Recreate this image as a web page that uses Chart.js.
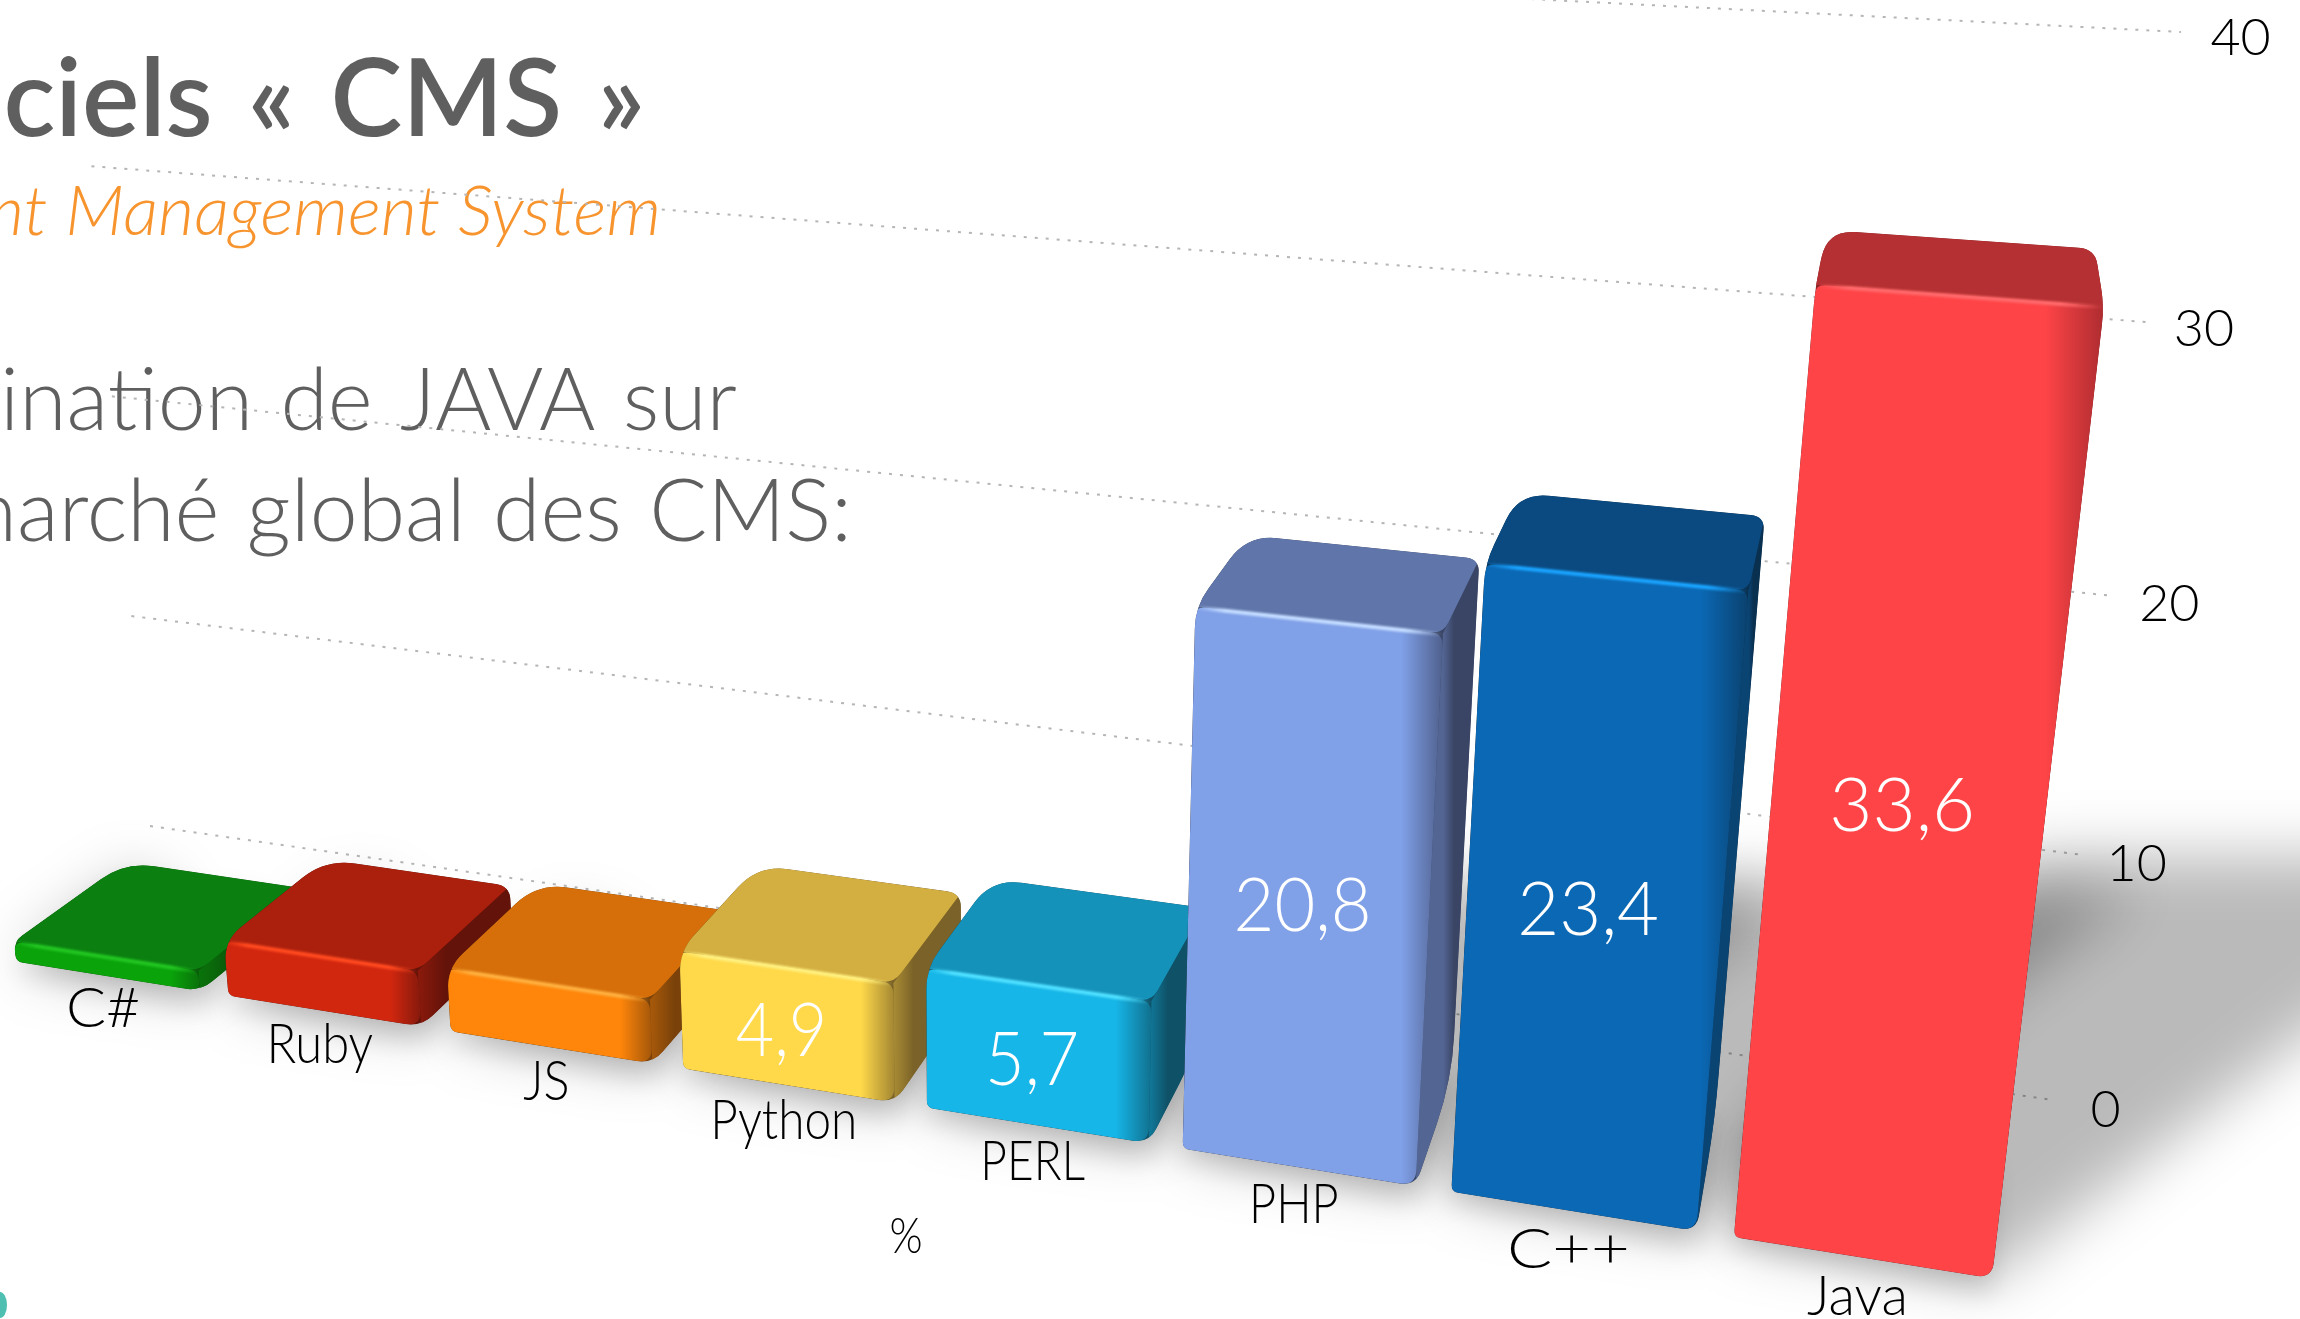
<!DOCTYPE html>
<html>
<head>
<meta charset="utf-8">
<title>Logiciels CMS</title>
<script src="https://cdn.jsdelivr.net/npm/chart.js@4"></script>
<style>
  html, body { margin: 0; padding: 0; background: #fff; overflow: hidden; }
  canvas { display: block; }
</style>
</head>
<body>
<canvas id="cms_chart" width="2300" height="1319"></canvas>
<script>
// data
const categories = ["C#", "Ruby", "JS", "Python", "PERL", "PHP", "C++", "Java"];
const shares = [0.9, 2.4, 2.7, 4.9, 5.7, 20.8, 23.4, 33.6];
const shownLabels = ["", "", "", "4,9", "5,7", "20,8", "23,4", "33,6"];
const tickValues = [0, 10, 20, 30, 40];

const frontColors = ["#0aa30a", "#d2270f", "#ff860a", "#ffd94a", "#16b6e8", "#80a0e8", "#0b68b4", "#ff4447"];
const topColors = ["#0b8010", "#ab200d", "#d66f0a", "#d3ae40", "#1592ba", "#6076aa", "#0b4a80", "#b53032"];
const sideColors = ["#0a5a0a", "#64130a", "#7a420a", "#7a6228", "#0f5268", "#3a4565", "#0a3050", "#8a2226"];
const glowColors = ["#22c522", "#ff4a20", "#ffb040", "#fff080", "#50e0ff", "#c4dcff", "#1aa4ff", "#ff6a6c"];
const labelStretch = [1.3, 1.04, 1, 0.95, 0.89, 0.88, 1.22, 0.97];

const FONT = "Lato";
const GREY = "#5f5f5f";

// back wall corners on screen, value 0 and 40, left and right
const wall = [[150, 826], [2053, 1100], [2181, 32], [70, -75]];
const vanish = [1980, -469]; // where the depth lines meet
const depthK = -0.09;
const xStart = 0.0195, xEnd = 0.9803; // category band inside the wall
const zFront = 1, zBack = 0.4;

function makeHomography(q) {
  let [x0, y0] = q[0], [x1, y1] = q[1], [x2, y2] = q[2], [x3, y3] = q[3];
  let dx1 = x1 - x2, dx2 = x3 - x2, sx = x0 - x1 + x2 - x3;
  let dy1 = y1 - y2, dy2 = y3 - y2, sy = y0 - y1 + y2 - y3;
  let den = dx1 * dy2 - dx2 * dy1;
  let g = (sx * dy2 - dx2 * sy) / den;
  let h = (dx1 * sy - sx * dy1) / den;
  return {
    a: x1 - x0 + g * x1, b: x3 - x0 + h * x3, c: x0,
    d: y1 - y0 + g * y1, e: y3 - y0 + h * y3, f: y0, g: g, h: h
  };
}
const H = makeHomography(wall);

// X and Y are 0..1 on the wall, Z goes from the wall (0) to the front of the bars (1)
function project3d(X, Y, Z) {
  let kz = depthK * Z;
  let w = H.g * X + H.h * Y + 1 + kz;
  return {
    x: (H.a * X + H.b * Y + H.c + kz * vanish[0]) / w,
    y: (H.d * X + H.e * Y + H.f + kz * vanish[1]) / w
  };
}

function chartX(area, px) {
  let frac = (px - area.left) / area.width;
  return xStart + (xEnd - xStart) * frac;
}
function chartY(area, py) {
  return (area.bottom - py) / area.height;
}

function mixColor(c1, c2, t) {
  let p = (c, i) => parseInt(c.substr(i, 2), 16);
  let out = [1, 3, 5].map(i => Math.round(p(c1, i) * (1 - t) + p(c2, i) * t));
  return "rgb(" + out.join(",") + ")";
}

// polygon with soft corners, radius per corner
function facePath(ctx, pts, radii) {
  let n = pts.length;
  ctx.beginPath();
  for (let i = 0; i < n; i++) {
    let p = pts[i], prev = pts[(i + n - 1) % n], next = pts[(i + 1) % n];
    let lenA = Math.hypot(prev.x - p.x, prev.y - p.y);
    let lenB = Math.hypot(next.x - p.x, next.y - p.y);
    let r = Math.min(radii[i], lenA / 2, lenB / 2);
    let ax = p.x + (prev.x - p.x) * r / lenA, ay = p.y + (prev.y - p.y) * r / lenA;
    let bx = p.x + (next.x - p.x) * r / lenB, by = p.y + (next.y - p.y) * r / lenB;
    if (i === 0) ctx.moveTo(ax, ay); else ctx.lineTo(ax, ay);
    ctx.quadraticCurveTo(p.x, p.y, bx, by);
  }
  ctx.closePath();
}

function barCorners(area, bar) {
  let xl = chartX(area, bar.x - bar.width / 2);
  let xr = chartX(area, bar.x + bar.width / 2);
  let yt = chartY(area, bar.y);
  let yb = chartY(area, bar.base);
  return {
    frontTL: project3d(xl, yt, zFront), frontTR: project3d(xr, yt, zFront),
    frontBL: project3d(xl, yb, zFront), frontBR: project3d(xr, yb, zFront),
    backTL: project3d(xl, yt, zBack), backTR: project3d(xr, yt, zBack),
    backBL: project3d(xl, yb, zBack), backBR: project3d(xr, yb, zBack)
  };
}

function drawShadow(ctx, area, bars) {
  ctx.save();
  ctx.filter = "blur(30px)";
  ctx.fillStyle = "rgba(0,0,0,0.27)";
  bars.forEach((bar, i) => {
    let c = barCorners(area, bar);
    let v = shares[i];
    ctx.beginPath();
    ctx.moveTo(c.frontBL.x, c.frontBL.y);
    ctx.lineTo(c.frontBR.x, c.frontBR.y);
    ctx.lineTo(c.frontBR.x + v * 19, c.frontBR.y - v * 14.7);
    ctx.lineTo(c.backBL.x + v * 19, c.backBL.y - v * 8);
    ctx.lineTo(c.backBL.x + v * 8, c.backBL.y - v * 8);
    ctx.lineTo(c.backBL.x, c.backBL.y);
    ctx.closePath();
    ctx.fill();
  });
  ctx.filter = "blur(14px)";
  ctx.fillStyle = "rgba(0,0,0,0.16)";
  bars.forEach((bar) => {
    let c = barCorners(area, bar);
    ctx.beginPath();
    ctx.moveTo(c.frontBL.x, c.frontBL.y + 8);
    ctx.lineTo(c.frontBR.x, c.frontBR.y + 14);
    ctx.lineTo(c.backBR.x, c.backBR.y);
    ctx.lineTo(c.backBL.x, c.backBL.y);
    ctx.closePath();
    ctx.fill();
  });
  ctx.restore();
}

function drawBar(ctx, area, bar, i) {
  let c = barCorners(area, bar);

  // the outline of the whole block, the faces are painted inside it
  let sideShows = c.backTR.x > c.frontTR.x;
  let outline = sideShows
    ? [c.frontBL, c.frontTL, c.backTL, c.backTR, c.backBR, c.frontBR]
    : [c.frontBL, c.frontTL, c.backTL, c.backTR, c.frontTR, c.frontBR];
  let outlineRadii = sideShows ? [7, 22, 30, 14, 46, 16] : [7, 22, 30, 16, 18, 16];

  ctx.save();
  facePath(ctx, outline, outlineRadii);
  ctx.fillStyle = sideColors[i];
  ctx.fill();
  ctx.clip();

  // right side
  let sideGrad = ctx.createLinearGradient(c.frontTR.x, 0, Math.max(c.backTR.x, c.frontTR.x + 1), 0);
  sideGrad.addColorStop(0, mixColor(sideColors[i], frontColors[i], 0.35));
  sideGrad.addColorStop(0.3, sideColors[i]);
  sideGrad.addColorStop(1, sideColors[i]);
  ctx.fillStyle = sideGrad;
  facePath(ctx, [c.frontTR, c.backTR, c.backBR, c.frontBR], [0, 0, 0, 0]);
  ctx.fill();

  // top
  ctx.fillStyle = topColors[i];
  facePath(ctx, [c.frontTL, c.frontTR, c.backTR, c.backTL], [0, 12, 0, 0]);
  ctx.fill();

  // front, darkens toward the bevel on the right
  let midY = (c.frontTL.y + c.frontBL.y) / 2;
  let frontGrad = ctx.createLinearGradient(c.frontBL.x, midY, Math.max(c.frontTR.x, c.frontBR.x), midY);
  frontGrad.addColorStop(0, frontColors[i]);
  frontGrad.addColorStop(0.84, frontColors[i]);
  frontGrad.addColorStop(1, mixColor(frontColors[i], sideColors[i], 0.7));
  ctx.fillStyle = frontGrad;
  facePath(ctx, [c.frontTL, c.frontTR, c.frontBR, c.frontBL], [10, 12, 16, 0]);
  ctx.fill();

  // light line on the top edge
  let edge = ctx.createLinearGradient(c.frontTL.x, 0, c.frontTR.x, 0);
  edge.addColorStop(0, glowColors[i] + "00");
  edge.addColorStop(0.12, glowColors[i]);
  edge.addColorStop(0.85, glowColors[i]);
  edge.addColorStop(1, glowColors[i] + "00");
  ctx.strokeStyle = edge;
  ctx.lineWidth = 4;
  ctx.filter = "blur(1px)";
  ctx.beginPath();
  ctx.moveTo(c.frontTL.x, c.frontTL.y + 1);
  ctx.lineTo(c.frontTR.x, c.frontTR.y + 1);
  ctx.stroke();
  ctx.restore();
}

function drawText(ctx, text, x, y, font, color, align, xScale) {
  ctx.save();
  ctx.font = font;
  ctx.fillStyle = color;
  ctx.textAlign = align;
  ctx.textBaseline = "middle";
  ctx.translate(x, y);
  ctx.scale(xScale, 1);
  ctx.fillText(text, 0, 0);
  ctx.restore();
}

const perspectiveBars = {
  id: "perspectiveBars",
  beforeDatasetDraw(chart) {
    let ctx = chart.ctx;
    let area = chart.chartArea;
    let yScale = chart.scales.y;
    let bars = chart.getDatasetMeta(0).data;

    // headings, cut by the left edge like the slide they come from
    ctx.save();
    ctx.textBaseline = "alphabetic";
    ctx.textAlign = "right";
    ctx.fillStyle = GREY;
    ctx.wordSpacing = "8px";
    ctx.font = "600 108px " + FONT;
    ctx.fillText("Logiciels « CMS »", 645, 136);
    ctx.wordSpacing = "0px";
    ctx.fillStyle = "#f7942e";
    ctx.font = "italic 300 70px " + FONT;
    ctx.fillText("Content Management System", 661, 235);
    ctx.fillStyle = GREY;
    ctx.wordSpacing = "4px";
    ctx.font = "300 86px " + FONT;
    ctx.fillText("Domination de JAVA sur", 737, 430);
    ctx.fillText("le marché global des CMS:", 852, 541);
    ctx.restore();

    // dotted grid on the back wall
    ctx.save();
    ctx.strokeStyle = "#b5b5b5";
    ctx.lineWidth = 2;
    ctx.setLineDash([3, 8]);
    yScale.ticks.forEach((t) => {
      let Y = chartY(area, yScale.getPixelForValue(t.value));
      let p0 = project3d(0, Y, 0), p1 = project3d(1, Y, 0);
      ctx.beginPath();
      ctx.moveTo(p0.x, p0.y);
      ctx.lineTo(p1.x, p1.y);
      ctx.stroke();
    });
    ctx.restore();

    drawShadow(ctx, area, bars);

    yScale.ticks.forEach((t) => {
      let Y = chartY(area, yScale.getPixelForValue(t.value));
      let p = project3d(1.023, Y, 0);
      drawText(ctx, String(t.value), p.x, p.y + 3, "300 52px " + FONT, "#000", "center", 1);
    });

    bars.forEach((bar, i) => drawBar(ctx, area, bar, i));

    // texts on and under the bars
    bars.forEach((bar, i) => {
      let frac = (bar.x - area.left) / area.width;
      let X = chartX(area, bar.x);
      let widthScale = 0.8 + 0.22 * frac;
      let under = project3d(X, 0, zFront);
      drawText(ctx, categories[i], under.x - 4, under.y + 32 + 8 * frac, "300 56px " + FONT, "#000", "center", widthScale * labelStretch[i]);
      if (shownLabels[i]) {
        let mid = project3d(X, chartY(area, (bar.y + bar.base) / 2), zFront);
        drawText(ctx, shownLabels[i], mid.x - 5, mid.y + 6, "300 74px " + FONT, "#fff", "center", widthScale);
      }
    });

    drawText(ctx, "%", 906, 1237, "300 50px " + FONT, "#000", "center", 0.85);

    // bit of the logo at the page corner
    ctx.fillStyle = "#4fbfb2";
    ctx.beginPath();
    ctx.ellipse(0, 1305, 7, 13, 0, 0, Math.PI * 2);
    ctx.fill();

    return false; // the flat bars are replaced by the drawing above
  }
};

new Chart(document.getElementById("cms_chart").getContext("2d"), {
  type: "bar",
  data: {
    labels: categories,
    datasets: [{
      label: "%",
      data: shares,
      backgroundColor: frontColors,
      barPercentage: 0.87,
      categoryPercentage: 1
    }]
  },
  options: {
    responsive: false,
    animation: false,
    layout: { padding: 0 },
    plugins: { legend: { display: false }, tooltip: { enabled: false } },
    scales: {
      x: { display: false },
      y: { display: false, min: tickValues[0], max: tickValues[tickValues.length - 1], ticks: { stepSize: 10 } }
    }
  },
  plugins: [perspectiveBars]
});
</script>
</body>
</html>
